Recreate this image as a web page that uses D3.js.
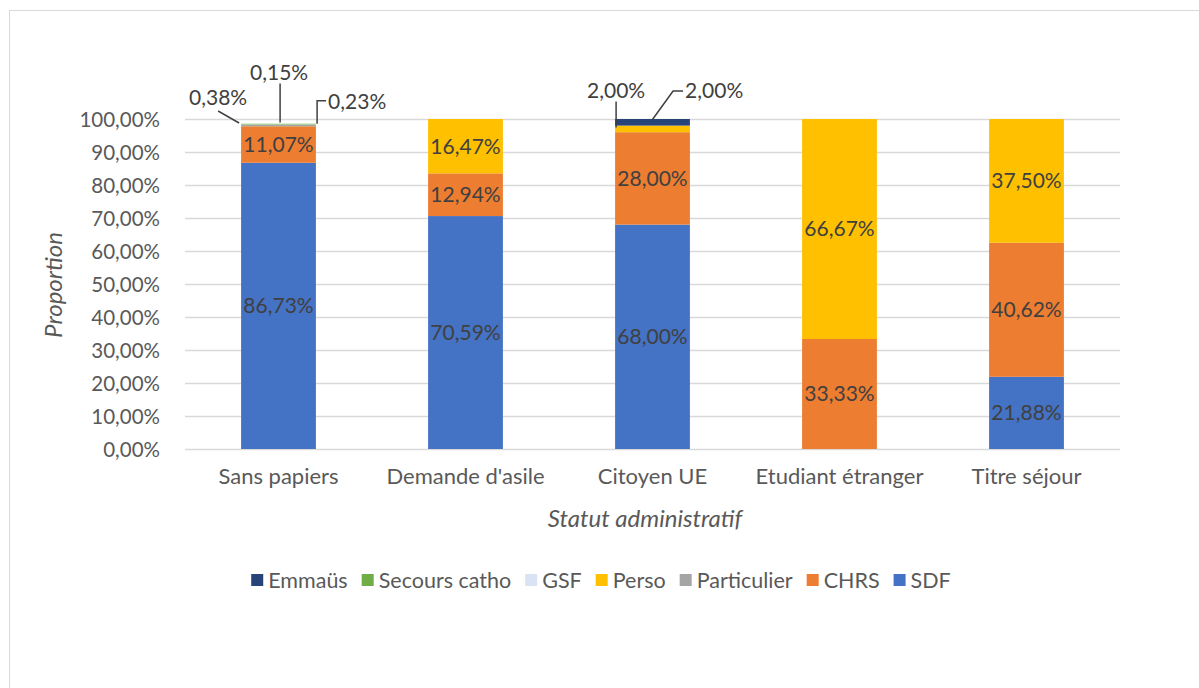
<!DOCTYPE html>
<html>
<head>
<meta charset="utf-8">
<script src="https://cdn.jsdelivr.net/npm/d3@7"></script>
<style>
  body { margin: 0; background: #fff; }
  text { font-family: Lato, "Open Sans", sans-serif; fill: #595959; }
</style>
</head>
<body>
<svg id="chart" width="1199" height="688"></svg>
<script>
const categories = ["Sans papiers", "Demande d'asile", "Citoyen UE", "Etudiant étranger", "Titre séjour"];
const seriesNames = ["SDF", "CHRS", "Particulier", "Perso", "GSF", "Secours catho", "Emmaüs"];
const sdf         = [86.73, 70.59, 68.00, 0, 21.88];
const chrs        = [11.07, 12.94, 28.00, 33.33, 40.62];
const particulier = [0.38, 0, 0, 0, 0];
const perso       = [0, 16.47, 2.00, 66.67, 37.50];
const gsf         = [0.15, 0, 0, 0, 0];
const secours     = [0.23, 0, 0, 0, 0];
const emmaus      = [0, 0, 2.00, 0, 0];
const yTicks = [0, 10, 20, 30, 40, 50, 60, 70, 80, 90, 100];
const legendOrder = ["Emmaüs", "Secours catho", "GSF", "Perso", "Particulier", "CHRS", "SDF"];

const colors = {
  "SDF": "#4472C4", "CHRS": "#ED7D31", "Particulier": "#A5A5A5", "Perso": "#FFC000",
  "GSF": "#DAE3F3", "Secours catho": "#70AD47", "Emmaüs": "#264478"
};

// small segments get a callout instead of an inside label (offsets from bar left / segment top)
const callouts = [
  {cat: "Sans papiers", key: "Particulier", anchor: "middle", t: [-23, -27], line: [[-23, -14], [-2, -2]]},
  {cat: "Sans papiers", key: "GSF", anchor: "middle", t: [38, -52], line: [[39, -41], [39, -2]]},
  {cat: "Sans papiers", key: "Secours catho", anchor: "start", t: [87, -22], line: [[85, -23], [76, -23], [76, 0]]},
  {cat: "Citoyen UE", key: "Perso", anchor: "middle", t: [1, -35], line: [[1, -24], [1, 2]]},
  {cat: "Citoyen UE", key: "Emmaüs", anchor: "start", t: [70, -28], line: [[68, -28], [58, -28], [37, 1]]}
];

const table = categories.map((c, i) => ({
  cat: c, "SDF": sdf[i], "CHRS": chrs[i], "Particulier": particulier[i], "Perso": perso[i],
  "GSF": gsf[i], "Secours catho": secours[i], "Emmaüs": emmaus[i]
}));

const svg = d3.select("#chart");
const fmt = v => d3.format(".2f")(v).replace(".", ",") + "%";

// outer frame
svg.append("rect").attr("x", 9.5).attr("y", 10.5).attr("width", 1200).attr("height", 700)
  .attr("fill", "none").attr("stroke", "#D9D9D9");

const plotLeft = 185, plotRight = 1120, plotTop = 119, plotBottom = 449;
const x = d3.scaleBand().domain(categories).range([plotLeft, plotRight]).paddingInner(0.6).paddingOuter(0.3);
const y = d3.scaleLinear().domain([0, 100]).range([plotBottom, plotTop]);

// gridlines
svg.append("g").selectAll("line").data(yTicks).join("line")
  .attr("x1", plotLeft).attr("x2", plotRight)
  .attr("y1", d => y(d) + 0.5).attr("y2", d => y(d) + 0.5)
  .attr("stroke", "#D9D9D9").attr("stroke-width", 1.5);

// y axis labels
const yAxis = svg.append("g").attr("transform", `translate(${plotLeft - 22},0)`)
  .call(d3.axisLeft(y).tickValues(yTicks).tickSize(0).tickFormat(fmt));
yAxis.select(".domain").remove();
yAxis.selectAll("text").attr("font-size", 20.5).attr("font-family", null).attr("fill", "#595959").attr("dy", "0.35em");

// x axis labels
const xAxis = svg.append("g").attr("transform", `translate(0,${plotBottom + 19})`)
  .call(d3.axisBottom(x).tickSize(0));
xAxis.select(".domain").remove();
xAxis.selectAll("text").attr("font-size", 22).attr("font-family", null).attr("fill", "#595959").attr("dy", "0.6em");

// stacked bars
const stack = d3.stack().keys(seriesNames)(table);
const groups = svg.append("g").selectAll("g").data(stack).join("g")
  .attr("fill", d => colors[d.key]);
groups.selectAll("rect").data(d => d.map(p => ({p, key: d.key}))).join("rect")
  .attr("x", d => x(d.p.data.cat))
  .attr("width", x.bandwidth())
  .attr("y", d => y(d.p[1]))
  .attr("height", d => y(d.p[0]) - y(d.p[1]));

// inside labels
const inside = [];
stack.forEach(s => s.forEach(p => {
  if (p[1] - p[0] >= 5) inside.push({p, key: s.key});
}));
svg.append("g").selectAll("text").data(inside).join("text")
  .attr("x", d => x(d.p.data.cat) + x.bandwidth() / 2)
  .attr("y", d => (y(d.p[0]) + y(d.p[1])) / 2)
  .attr("dy", "0.35em")
  .attr("text-anchor", "middle")
  .attr("font-size", 21)
  .style("fill", "#404040")
  .text(d => fmt(d.p[1] - d.p[0]));

// callouts
const seg = (cat, key) => stack.find(s => s.key === key)[categories.indexOf(cat)];
const cg = svg.append("g");
callouts.forEach(c => {
  const s = seg(c.cat, c.key);
  const x0 = x(c.cat), y0 = y(s[1]);
  cg.append("path")
    .attr("d", d3.line()(c.line.map(([dx, dy]) => [x0 + dx, y0 + dy])))
    .attr("fill", "none").attr("stroke", "#404040").attr("stroke-width", 1.5);
  cg.append("text")
    .attr("x", x0 + c.t[0]).attr("y", y0 + c.t[1]).attr("dy", "0.35em")
    .attr("text-anchor", c.anchor).attr("font-size", 21)
    .style("fill", "#404040")
    .text(fmt(s[1] - s[0]));
});

// axis titles
svg.append("text").attr("transform", "translate(62,285) rotate(-90)")
  .attr("text-anchor", "middle").attr("font-size", 24).attr("font-style", "italic")
  .text("Proportion");
svg.append("text").attr("x", 645).attr("y", 519).attr("dy", "0.35em")
  .attr("text-anchor", "middle").attr("font-size", 24).attr("font-style", "italic")
  .text("Statut administratif");

// legend
const lg = svg.append("g");
let lx = 0;
legendOrder.forEach(k => {
  const it = lg.append("g").attr("transform", `translate(${lx},0)`);
  it.append("rect").attr("x", 0).attr("y", -6).attr("width", 12).attr("height", 12).attr("fill", colors[k]);
  const t = it.append("text").attr("x", 17).attr("dy", "0.35em").attr("font-size", 21.5).text(k);
  lx += 17 + t.node().getComputedTextLength() + 14;
});
lx -= 14;
lg.attr("transform", `translate(${601 - lx / 2},580)`);
</script>
</body>
</html>
